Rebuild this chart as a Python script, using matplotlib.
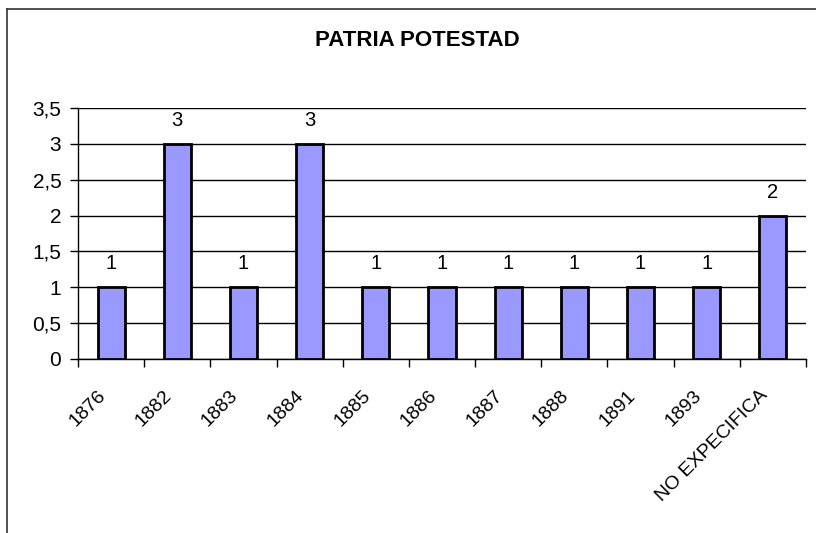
import matplotlib
matplotlib.use('Agg')
import matplotlib.pyplot as plt
import matplotlib.transforms as mtransforms
from matplotlib.lines import Line2D
from matplotlib.ticker import FuncFormatter
import numpy as np

plt.rcParams['font.family'] = ['Liberation Sans', 'DejaVu Sans']

# data
categories = ['1876', '1882', '1883', '1884', '1885', '1886', '1887',
              '1888', '1891', '1893', 'NO EXPECIFICA']
values = [1, 3, 1, 3, 1, 1, 1, 1, 1, 1, 2]
yticks = [0, 0.5, 1, 1.5, 2, 2.5, 3, 3.5]
title = 'PATRIA POTESTAD'

W, H = 816, 533
fig = plt.figure(figsize=(W / 100, H / 100), dpi=100)
ax = fig.add_axes([78 / W, 1 - 359 / H, (806 - 78) / W, (359 - 108) / H])

x = np.arange(len(categories))
bars = ax.bar(x, values, width=0.41, color='#9999ff', edgecolor='black',
              linewidth=2, zorder=3)
for xi, v in zip(x, values):
    ax.annotate(str(v), (xi, v), xytext=(0, 10), textcoords='offset points',
                ha='center', va='bottom', fontsize=14.5)

ax.set_xlim(-0.5, len(categories) - 0.5)
ax.set_ylim(0, 3.5)
ax.set_yticks(yticks)
ax.yaxis.set_major_formatter(FuncFormatter(lambda v, p: ('%g' % v).replace('.', ',')))
ax.grid(axis='y', color='black', linewidth=1, zorder=0)

# category boundaries as ticks, labels in the middle
ax.set_xticks(np.arange(len(categories) + 1) - 0.5)
ax.set_xticklabels([])
ax.set_xticks(x, minor=True)
ax.set_xticklabels(categories, minor=True, rotation=45, ha='right',
                   rotation_mode='anchor', fontsize=14)
ax.tick_params(axis='x', which='minor', length=0, pad=20)
ax.tick_params(axis='x', which='major', length=6, width=1, direction='out')
ax.tick_params(axis='y', length=6, width=1, labelsize=15, pad=6)
shift = mtransforms.ScaledTranslation(-14 / 100, 0, fig.dpi_scale_trans)
for lab in ax.get_xticklabels(minor=True):
    lab.set_transform(lab.get_transform() + shift)

for s in ['top', 'right']:
    ax.spines[s].set_visible(False)
ax.spines['left'].set_linewidth(1)
ax.spines['bottom'].set_linewidth(1)

fig.text(417 / W, 1 - 40 / H, title, ha='center', va='center',
         fontsize=16, fontweight='bold')

# chart frame (top and left edges visible)
fig.add_artist(Line2D([7 / W, 1], [1 - 9 / H, 1 - 9 / H], color='#333333',
                      linewidth=1.2, transform=fig.transFigure))
fig.add_artist(Line2D([7 / W, 7 / W], [0, 1 - 9 / H], color='#333333',
                      linewidth=1.2, transform=fig.transFigure))

fig.savefig('out.png', dpi=100)
